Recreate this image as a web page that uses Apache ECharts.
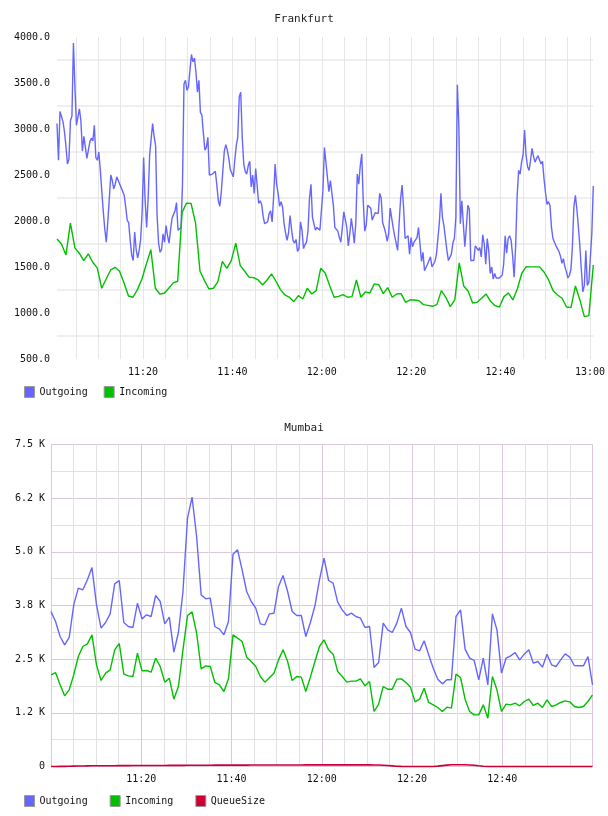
<!DOCTYPE html>
<html><head><meta charset="utf-8">
<script src="https://cdn.jsdelivr.net/npm/echarts@6/dist/echarts.min.js"></script>
<style>html,body{margin:0;padding:0;background:#fff}#c{width:608px;height:816px}</style>
</head><body><div id="c"></div><script>
// ---------- DATA ----------
// Time is expressed in minutes after 11:00.
const frankfurtStartMin = 0.75, frankfurtEndMin = 120.75;
const mumbaiStartMin = 0, mumbaiEndMin = 120;

const frankfurtOutgoing = [
3060,2660,3190,3180,3080,2970,2810,2620,2670,3090,
3140,3935,3460,3040,3130,3220,3090,2760,2920,2910,
2680,2690,2860,2900,2870,3040,2690,2660,2750,2550,
2320,2100,1910,1770,1990,2240,2500,2440,2350,2400,
2480,2480,2400,2360,2360,2280,2150,2010,1980,1790,
1630,1570,1880,1690,1600,1680,1800,2100,2690,2220,
1930,2240,2710,2730,3060,2920,2820,2060,1760,1660,
1690,1860,1770,1950,1840,1760,1900,2030,2020,2110,
2200,1900,1890,1930,2400,3490,3530,3420,3460,3640,
3810,3730,3770,3620,3400,3530,3180,3150,2950,2770,
2800,2910,2500,2480,2510,2500,2540,2390,2220,2160,
2320,2310,2760,2830,2770,2680,2560,2550,2480,2660,
2820,2910,3350,3400,2910,2620,2540,2510,2600,2650,
2370,2500,2300,2570,2570,2190,2220,2180,2050,1970,
1960,1990,2080,2110,1990,2260,2620,2400,2300,2160,
2210,2150,1970,1870,1790,1870,2060,1910,1790,1760,
1800,1670,1700,1990,1900,1700,1740,1770,1890,2240,
2400,2040,1970,1900,1930,1950,1900,1900,2330,2800,
2800,2480,2320,2440,2450,2170,1930,1940,1890,1820,
1770,1930,2100,2090,1930,1730,1860,2030,1910,1760,
1970,2510,2400,2600,2730,2220,1890,1960,2170,2190,
2140,2010,2000,2090,2090,2080,2300,2250,1980,1930,
1870,1780,1860,2140,2140,1930,1840,1850,1680,1970,
2240,2390,2150,1810,1790,1840,1640,1820,1720,1770,
1790,1820,1930,1750,1560,1660,1460,1460,1530,1570,
1610,1500,1490,1560,1640,1650,1990,2300,2040,1950,
1930,1680,1570,1570,1640,1760,1810,2040,3480,3040,
1970,2220,2240,1720,1930,2170,2130,1570,1560,1570,
1730,1750,1680,1710,1610,1850,1750,1530,1810,1680,
1430,1500,1370,1430,1380,1360,1380,1400,1410,1530,
1840,1650,1810,1840,1790,1620,1390,1720,2260,2550,
2510,2640,2720,2990,2710,2590,2550,2660,2790,2700,
2640,2680,2710,2690,2620,2650,2460,2310,2180,2210,
2170,1930,1810,1790,1730,1700,1670,1620,1540,1590,
1500,1450,1380,1410,1470,1720,2150,2280,2130,1940,
1730,1470,1230,1300,1680,1300,1330,1350,1860,2380
];
const frankfurtIncoming = [
1805,1751,1631,1976,1708,1649,1570,1642,1552,1490,
1269,1370,1468,1497,1454,1327,1185,1171,1254,1370,
1533,1689,1269,1207,1214,1269,1327,1345,2096,2194,
2190,1976,1454,1352,1261,1269,1341,1562,1486,1570,
1760,1515,1454,1388,1385,1359,1305,1359,1425,1345,
1254,1196,1171,1123,1189,1152,1269,1207,1243,1486,
1435,1298,1171,1181,1200,1171,1178,1359,1171,1229,
1218,1316,1309,1211,1276,1171,1207,1211,1116,1142,
1142,1134,1091,1083,1073,1091,1243,1171,1069,1142,
1544,1294,1236,1109,1116,1160,1207,1127,1080,1065,
1178,1218,1142,1261,1432,1504,1501,1501,1501,1443,
1359,1243,1196,1160,1065,1058,1294,1142,960,971,
1522
];
const mumbaiOutgoing = [
3610,3377,3028,2834,3005,3766,4154,4115,4348,4635,
3766,3222,3354,3556,4255,4332,3354,3261,3238,3804,
3439,3533,3494,3983,3843,3323,3478,2663,3121,4076,
5784,6273,5357,3998,3905,3921,3261,3199,3067,3377,
4946,5047,4581,4076,3843,3688,3323,3300,3556,3571,
4193,4449,4076,3610,3517,3517,3028,3354,3742,4348,
4853,4332,4270,3828,3649,3517,3571,3494,3455,3238,
3261,2306,2422,3339,3183,3121,3339,3688,3261,3121,
2733,2694,2927,2601,2290,2034,1925,2019,2019,3494,
3649,2733,2523,2469,2019,2523,1902,3556,3183,2174,
2523,2578,2655,2484,2616,2717,2407,2446,2314,2616,
2368,2329,2484,2624,2547,2352,2345,2345,2562,1902
];
const mumbaiIncoming = [
2135,2189,1902,1646,1786,2135,2562,2795,2857,3067,
2368,2003,2174,2252,2717,2865,2151,2112,2096,2640,
2228,2236,2197,2523,2329,1964,2057,1568,1863,2717,
3517,3602,3106,2275,2345,2329,1957,1902,1747,2042,
3067,2989,2912,2547,2446,2329,2096,1964,2065,2174,
2484,2717,2446,2003,2096,2081,1747,2081,2446,2795,
2950,2717,2616,2213,2096,1964,1988,1988,2042,1879,
1980,1281,1452,1863,1801,1801,2034,2042,1957,1848,
1506,1568,1824,1491,1436,1374,1281,1382,1359,2151,
2073,1568,1281,1203,1203,1436,1126,2096,1786,1281,
1452,1436,1475,1413,1514,1568,1421,1475,1374,1553,
1398,1436,1491,1529,1506,1398,1374,1398,1514,1669
];
const mumbaiQueueSize = [
0,0,2,4,6,8,10,12,14,16,
16,17,18,18,19,20,20,21,22,22,
23,23,24,24,25,25,26,26,27,27,
28,28,29,29,30,30,31,31,32,32,
32,33,33,33,34,34,34,35,35,35,
35,36,36,36,36,36,37,37,37,37,
37,37,38,38,38,38,38,38,38,38,
37,36,34,30,22,14,6,2,0,0,
0,0,0,0,0,8,20,32,40,42,
42,40,36,28,16,6,0,0,0,0,
0,0,0,0,0,0,0,0,0,0,
0,0,0,0,0,0,0,0,0,0
];

// Tick labels
const frankfurtXTicks = [20,40,60,80,100,120];
const frankfurtXLabels = ['11:20','11:40','12:00','12:20','12:40','13:00'];
const frankfurtXGrid = [5,10,15,20,25,30,35,40,45,50,55,60,65,70,75,80,85,90,95,100,105,110,115,120];
const frankfurtYTicks = [500,1000,1500,2000,2500,3000,3500,4000];
const frankfurtYLabels = ['500.0','1000.0','1500.0','2000.0','2500.0','3000.0','3500.0','4000.0'];
const mumbaiXTicks = [20,40,60,80,100];
const mumbaiXLabels = ['11:20','11:40','12:00','12:20','12:40'];
const mumbaiYTicks = [0,1250,2500,3750,5000,6250,7500];
const mumbaiYLabels = ['0','1.2 K','2.5 K','3.8 K','5.0 K','6.2 K','7.5 K'];

// ---------- CHART ----------
function spread(values, t0, t1) {
  const step = (t1 - t0) / (values.length - 1);
  return values.map((v, i) => [t0 + i * step, v]);
}
function lookup(ticks, labels) {
  return v => { const i = ticks.findIndex(t => Math.abs(t - v) < 1e-6); return i < 0 ? '' : labels[i]; };
}
const FONT = 'DejaVu Sans Mono';
const BLUE = '#6666ff', GREEN = '#00c000', RED = '#cc0033';
const PURPLE = '#dcc6dc', GRAY = '#e2e2e2';

const chart = echarts.init(document.getElementById('c'), null, {renderer: 'canvas'});
const lineSeries = (name, color, xi, data, extra) => Object.assign({
  name, type: 'line', xAxisIndex: xi, yAxisIndex: xi, data,
  symbol: 'none', showSymbol: false, animation: false,
  lineStyle: {color, width: 1.4}, itemStyle: {color}
}, extra || {});

chart.setOption({
  animation: false,
  title: [
    {text: 'Frankfurt', left: 'center', top: 14, padding: 0,
     textStyle: {fontFamily: FONT, fontSize: 11, fontWeight: 'normal', color: '#222'}},
    {text: 'Mumbai', left: 'center', top: 423, padding: 0,
     textStyle: {fontFamily: FONT, fontSize: 11, fontWeight: 'normal', color: '#222'}}
  ],
  legend: [
    {data: ['Outgoing', 'Incoming'], left: 24, top: 386, padding: 0, itemGap: 16,
     itemWidth: 10, itemHeight: 11, icon: 'rect',
     itemStyle: {borderColor: '#999', borderWidth: 1},
     textStyle: {fontFamily: FONT, fontSize: 10, color: '#111'}},
    {data: ['Outgoing', 'Incoming', 'QueueSize'], left: 24, top: 795, padding: 0, itemGap: 22,
     itemWidth: 10, itemHeight: 11, icon: 'rect',
     itemStyle: {borderColor: '#999', borderWidth: 1},
     textStyle: {fontFamily: FONT, fontSize: 10, color: '#111'}}
  ],
  grid: [
    {left: 57, top: 37, width: 537, height: 322},
    {left: 51, top: 444.5, width: 541.5, height: 322}
  ],
  xAxis: [
    {type: 'value', gridIndex: 0, min: frankfurtStartMin, max: frankfurtEndMin,
     axisLine: {show: false},
     axisTick: {show: false, customValues: frankfurtXGrid},
     axisLabel: {customValues: frankfurtXTicks, formatter: lookup(frankfurtXTicks, frankfurtXLabels),
                 margin: 8, fontFamily: FONT, fontSize: 10, color: '#111'},
     splitLine: {show: true, lineStyle: {color: '#e6e6e6', width: 1}}},
    {type: 'value', gridIndex: 1, min: mumbaiStartMin, max: mumbaiEndMin, interval: 5,
     axisLine: {show: false}, axisTick: {show: false},
     axisLabel: {customValues: mumbaiXTicks, formatter: lookup(mumbaiXTicks, mumbaiXLabels),
                 margin: 8, fontFamily: FONT, fontSize: 10, color: '#111'},
     splitLine: {show: true, lineStyle: {color: [PURPLE, GRAY, GRAY, GRAY], width: 1}}}
  ],
  yAxis: [
    {type: 'value', gridIndex: 0, min: 500, max: 4000, interval: 250,
     axisLine: {show: false}, axisTick: {show: false},
     axisLabel: {customValues: frankfurtYTicks, formatter: lookup(frankfurtYTicks, frankfurtYLabels),
                 margin: 7, fontFamily: FONT, fontSize: 10, color: '#111'},
     splitLine: {show: true, lineStyle: {color: ['rgba(0,0,0,0)', '#efefef'], width: 2}}},
    {type: 'value', gridIndex: 1, min: 0, max: 7500, interval: 625,
     axisLine: {show: false}, axisTick: {show: false},
     axisLabel: {customValues: mumbaiYTicks, formatter: lookup(mumbaiYTicks, mumbaiYLabels),
                 margin: 6, fontFamily: FONT, fontSize: 10, color: '#111'},
     splitLine: {show: true, lineStyle: {color: [PURPLE, GRAY], width: 1}}}
  ],
  series: [
    lineSeries('Outgoing', BLUE, 0, spread(frankfurtOutgoing, frankfurtStartMin, frankfurtEndMin)),
    lineSeries('Incoming', GREEN, 0, spread(frankfurtIncoming, frankfurtStartMin, frankfurtEndMin)),
    lineSeries('Outgoing', BLUE, 1, spread(mumbaiOutgoing, mumbaiStartMin, mumbaiEndMin)),
    lineSeries('Incoming', GREEN, 1, spread(mumbaiIncoming, mumbaiStartMin, mumbaiEndMin)),
    lineSeries('QueueSize', RED, 1, spread(mumbaiQueueSize, mumbaiStartMin, mumbaiEndMin), {clip: false, lineStyle: {color: RED, width: 1.6}})
  ]
});
</script></body></html>
